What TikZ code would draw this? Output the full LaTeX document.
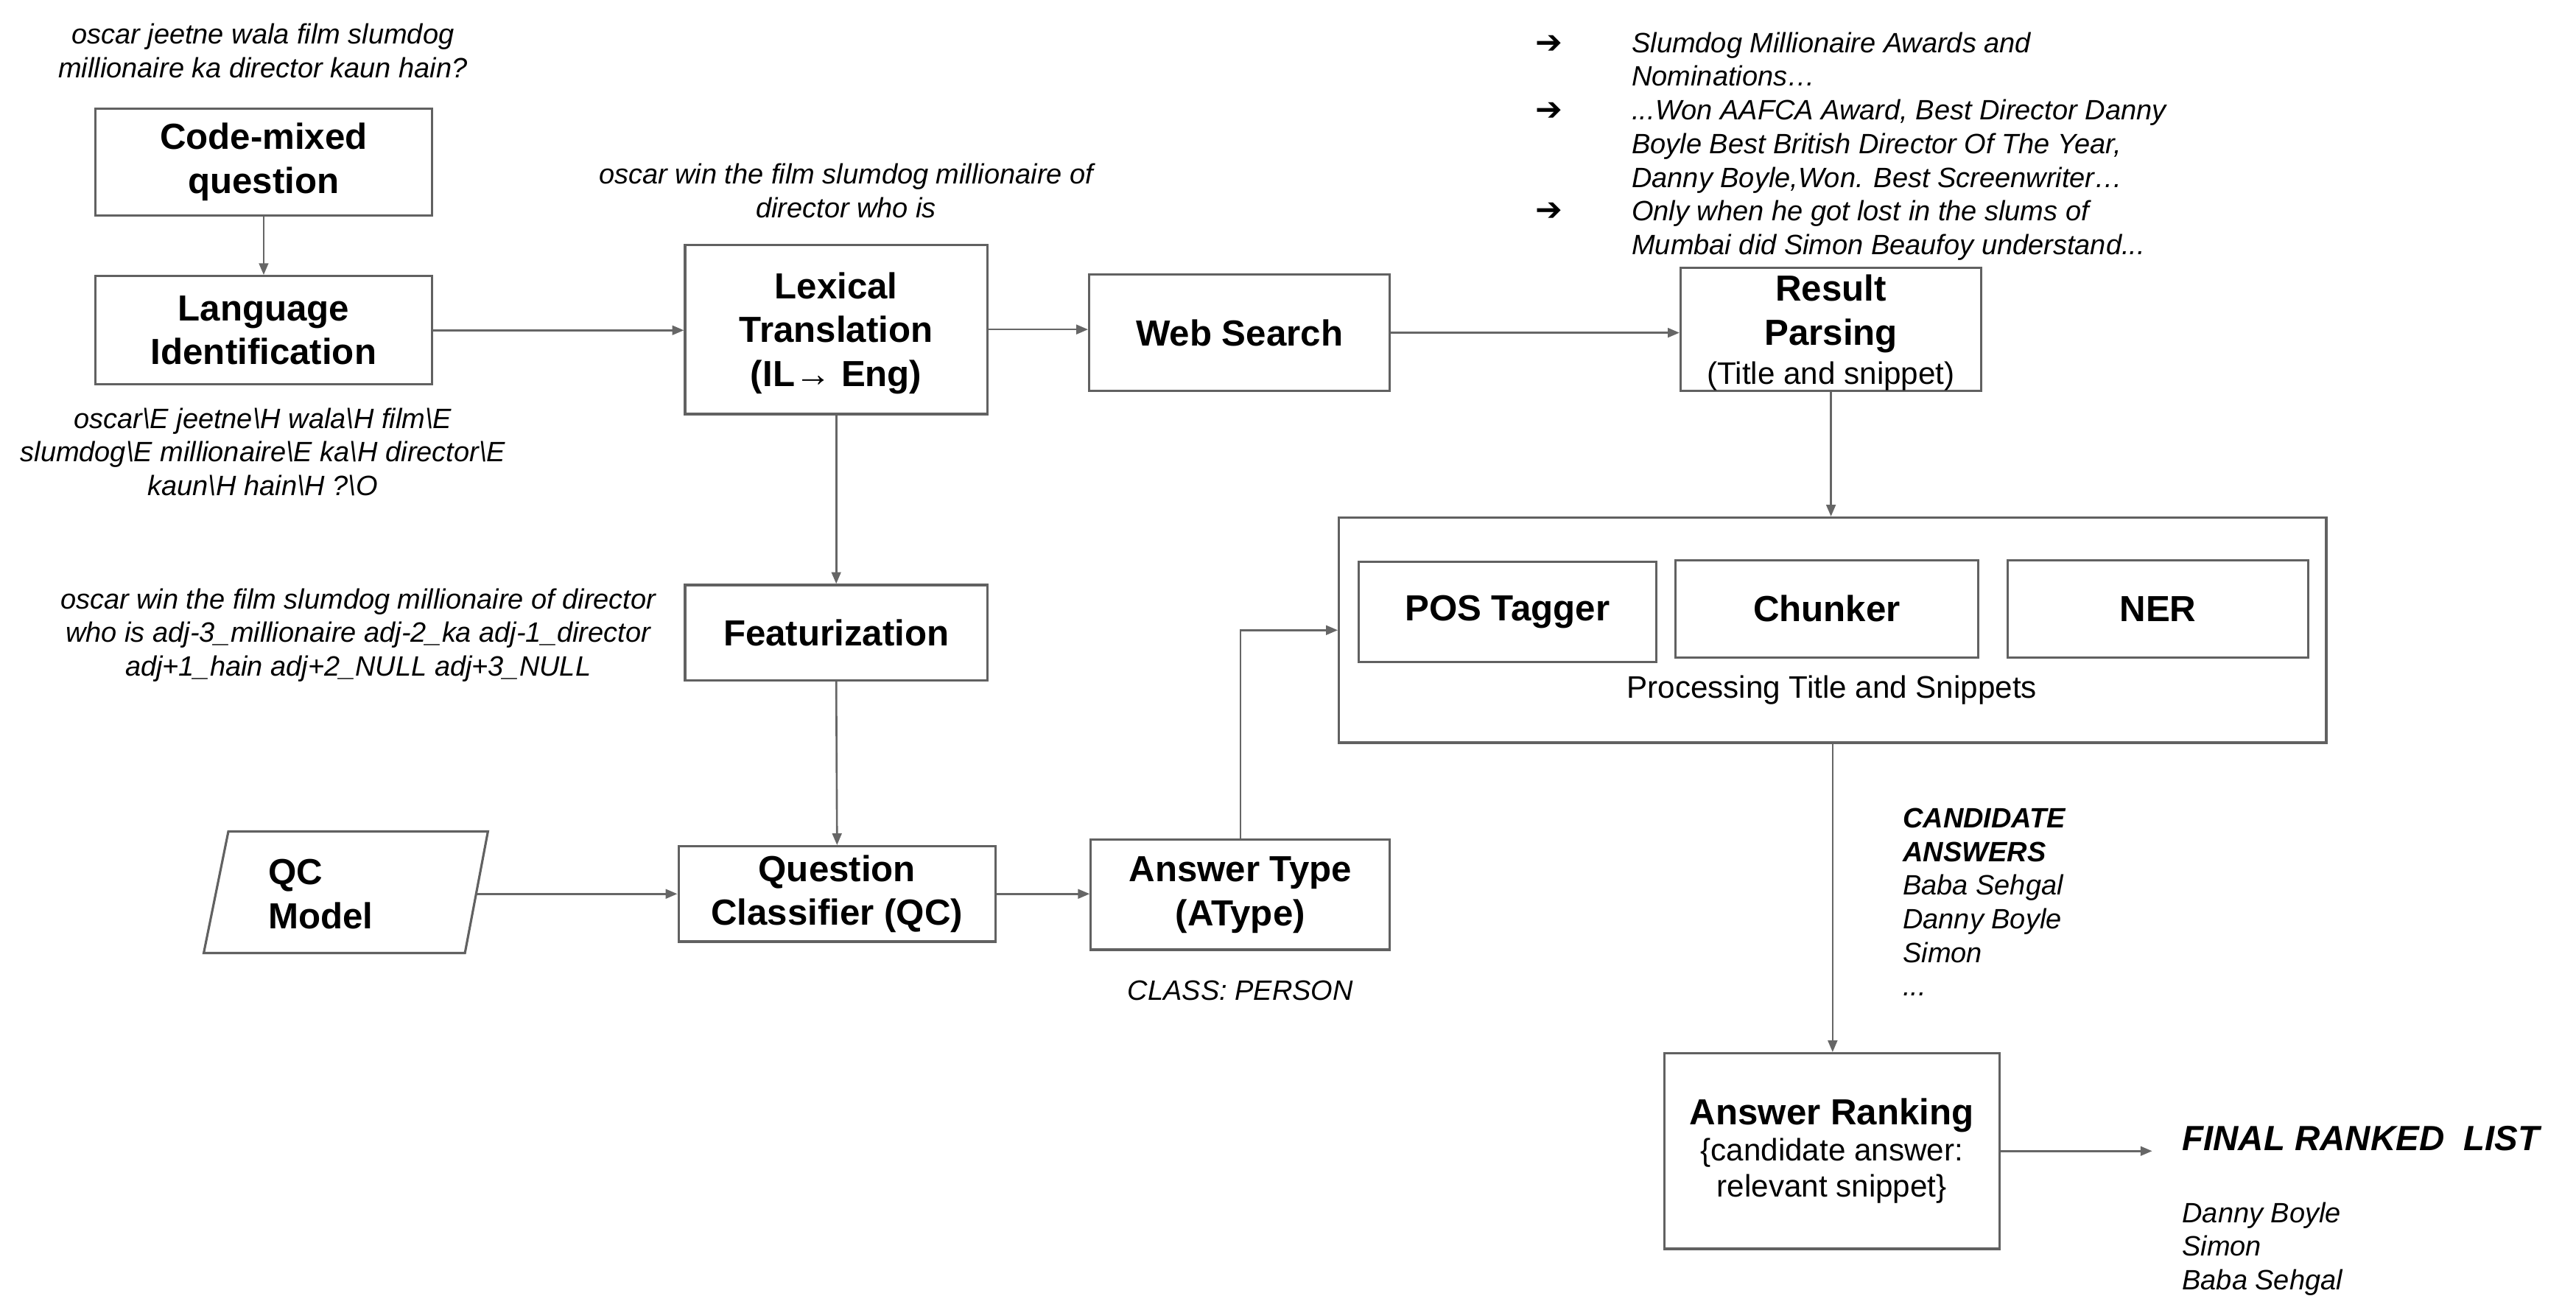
\documentclass[tikz,border=0pt]{standalone}
\usepackage{fontspec}
\setmainfont{Liberation Sans}
\newfontfamily\dvfont{DejaVu Sans}
\usetikzlibrary{arrows.meta,calc}
\begin{document}
\begin{tikzpicture}[x=0.0223cm,y=-0.0223cm,
  sz/.style 2 args={minimum width=#1*0.0223cm, minimum height=#2*0.0223cm},
  box/.style={draw=black!62, line width=0.9pt, rectangle, inner sep=0pt, align=center,
              font=\fontsize{14}{17}\selectfont\bfseries, text=black},
  ann/.style={inner sep=0pt, align=center, font=\fontsize{10.8}{13}\selectfont\itshape},
  conn/.style={draw=black!60, line width=0.75pt, -{Triangle[length=4.5pt,width=3.6pt]}},
  regtxt/.style={inner sep=0pt, font=\fontsize{12}{14.5}\selectfont},
  bul/.style={inner sep=0pt, font=\dvfont\fontsize{12.5}{14}\selectfont}
]
\useasboundingbox (0,0) rectangle (1568,797);

% ---------- boxes ----------
\node[box, sz={205}{65}] (cmq) at (160.5,98.5) {Code-mixed\\question};
\node[box, sz={205}{66}] (lid) at (160.5,201) {Language\\Identification};
\node[box, sz={184}{103}, text depth=-4pt] (lex) at (509,200.5) {Lexical\\Translation\\(IL→ Eng)};
\node[box, sz={183}{71}] (web) at (754.5,202.5) {Web Search};
\node[box, sz={183}{75}, text depth=-3pt] (rp) at (1114.5,200.5) {Result\\Parsing\\[-2pt]{\fontsize{12}{14}\selectfont\mdseries (Title and snippet)}};
\node[box, sz={601}{137}] (proc) at (1115.5,383.5) {};
\node[box, sz={181}{61}] (pos) at (917.5,372.5) {POS Tagger};
\node[box, sz={184}{59}] (chk) at (1112,370.5) {Chunker};
\node[box, sz={183}{59}] (ner) at (1313.5,370.5) {NER};
\node[regtxt] (proclbl) at (1115,420) {Processing Title and Snippets};
\node[box, sz={184}{58}] (feat) at (509,385) {Featurization};
\node[box, sz={193}{58}] (qc) at (509.5,544) {Question\\Classifier (QC)};
\node[box, sz={182}{67}] (at) at (755,544.5) {Answer Type\\(AType)};
\node[box, sz={204}{119}] (ar) at (1115,700.5) {Answer Ranking\\[-3pt]{\fontsize{12}{14}\selectfont\mdseries \{candidate answer:}\\[-3pt]{\fontsize{12}{14}\selectfont\mdseries relevant snippet\}}};

% QC model parallelogram
\draw[draw=black!62, line width=0.9pt] (124,580) -- (139,506) -- (297,506) -- (283,580) -- cycle;
\node[inner sep=0pt, align=left, anchor=west, font=\fontsize{14}{17}\selectfont\bfseries] (qcm) at (163,544) {QC\\Model};
\coordinate (qcmR) at (290,544);

% ---------- annotations ----------
\node[ann] (t1) at (160,31) {oscar jeetne wala film slumdog\\millionaire ka director kaun hain?};
\node[ann] (t2) at (160,275) {oscar\textbackslash E jeetne\textbackslash H wala\textbackslash H film\textbackslash E\\slumdog\textbackslash E millionaire\textbackslash E ka\textbackslash H director\textbackslash E\\kaun\textbackslash H hain\textbackslash H ?\textbackslash O};
\node[ann] (t3) at (515,116) {oscar win the film slumdog millionaire of\\director who is};
\node[ann] (t4) at (218,386.5) {oscar win the film slumdog millionaire of director\\who is adj-3\_millionaire adj-2\_ka adj-1\_director\\adj+1\_hain adj+2\_NULL adj+3\_NULL};
\node[ann, align=left, anchor=west] (snip) at (993,89) {Slumdog Millionaire Awards and\\Nominations…\\...Won AAFCA Award, Best Director Danny\\Boyle Best British Director Of The Year,\\Danny Boyle,Won. Best Screenwriter…\\Only when he got lost in the slums of\\Mumbai did Simon Beaufoy understand...};
\node[bul] (b1) at (943,27) {➔};
\node[bul] (b2) at (943,68) {➔};
\node[bul] (b3) at (943,129) {➔};
\node[ann] (cls) at (755,603) {CLASS: PERSON};
\node[ann, align=left, anchor=west] (cand) at (1158,549) {{\bfseries CANDIDATE}\\{\bfseries ANSWERS}\\Baba Sehgal\\Danny Boyle\\Simon\\...};
\node[inner sep=0pt, anchor=west, font=\fontsize{13.5}{16}\selectfont\bfseries\itshape] (flt) at (1328,693) {FINAL RANKED\ \ LIST};
\node[ann, align=left, anchor=west] (fnames) at (1328,760) {Danny Boyle\\Simon\\Baba Sehgal};
\coordinate (fend) at (1310,700.5);

% ---------- connectors ----------
\draw[conn] (cmq.south) -- (lid.north);
\draw[conn] (lid.east) -- (lid.east -| lex.west);
\draw[conn] (lex.east) -- (lex.east -| web.west);
\draw[conn] (web.east) -- (web.east -| rp.west);
\draw[conn] (rp.south) -- (rp.south |- proc.north);
\draw[conn] (lex.south) -- (feat.north);
\draw[conn] (feat.south) -- (qc.north);
\draw[conn] (qcmR) -- (qc.west);
\draw[conn] (qc.east) -- (qc.east -| at.west);
\draw[conn] (at.north) |- (proc.west);
\draw[conn] (proc.south) -- (proc.south |- ar.north);
\draw[conn] (ar.east) -- (fend);
\end{tikzpicture}
\end{document}
